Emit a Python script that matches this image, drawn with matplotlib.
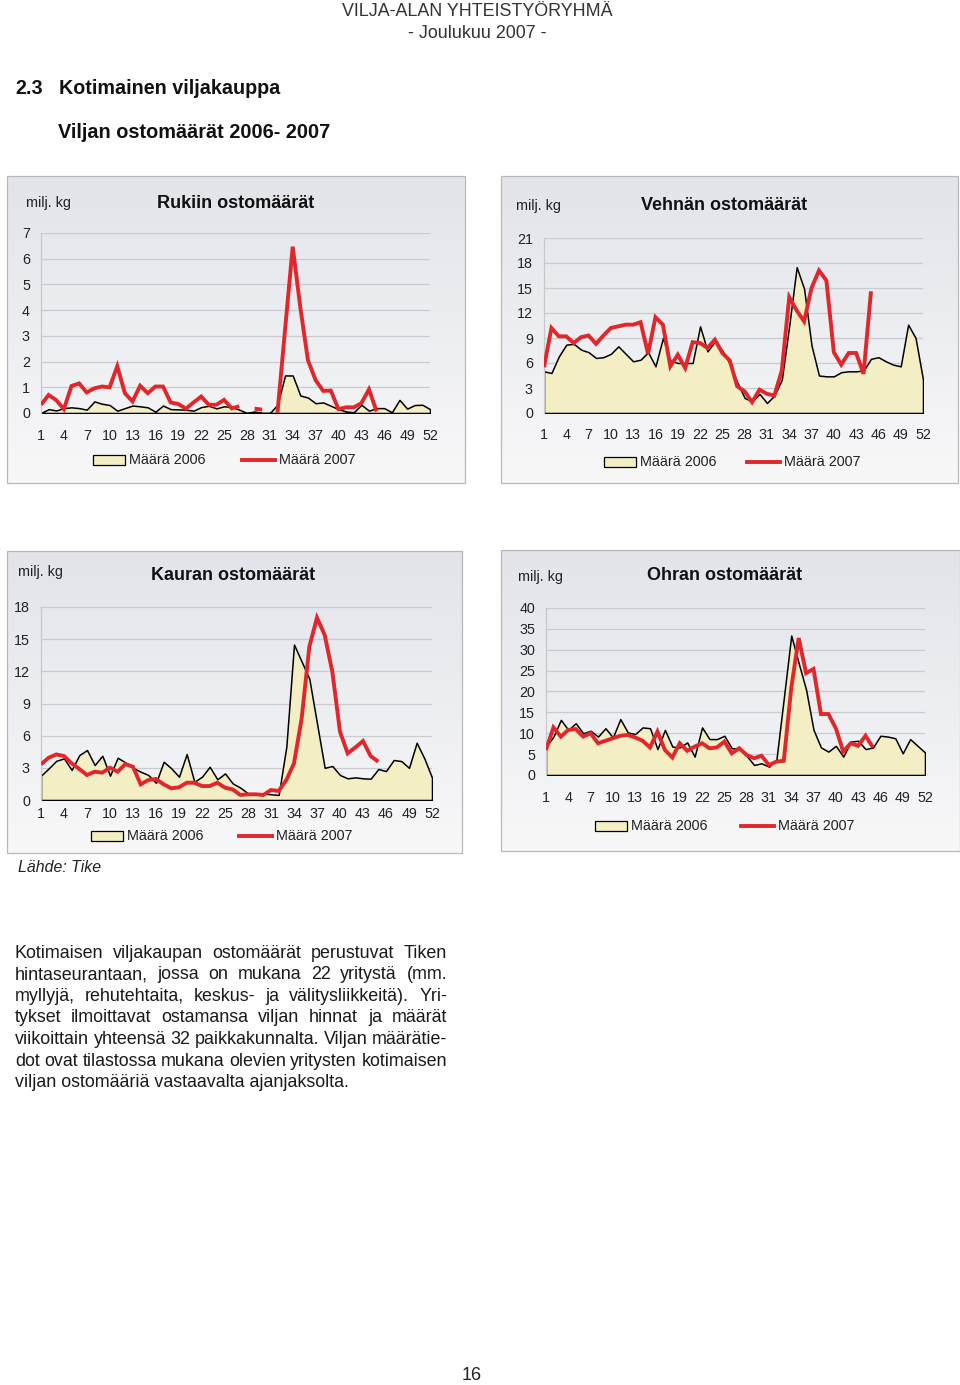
import numpy as np
import matplotlib
matplotlib.use("Agg")
import matplotlib.pyplot as plt
from matplotlib.patches import Rectangle
from matplotlib.lines import Line2D

plt.rcParams['font.family'] = ['Liberation Sans', 'DejaVu Sans']

nan = np.nan
weeks = list(range(1, 53))
xtick_weeks = list(range(1, 53, 3))

# ---- Rukiin ostomäärät (rye), milj. kg ----
rye_2006 = [0.00, 0.15, 0.10, 0.19, 0.22, 0.19, 0.13, 0.45, 0.36, 0.31,
            0.09, 0.19, 0.29, 0.26, 0.22, 0.05, 0.29, 0.15, 0.14, 0.13,
            0.09, 0.23, 0.28, 0.18, 0.26, 0.23, 0.13, 0.00, 0.06, 0.00,
            0.00, 0.32, 1.46, 1.46, 0.68, 0.60, 0.38, 0.41, 0.28, 0.15,
            0.06, 0.03, 0.32, 0.09, 0.19, 0.19, 0.03, 0.51, 0.17, 0.31,
            0.32, 0.15]
rye_2007 = [0.32, 0.70, 0.50, 0.15, 1.05, 1.15, 0.80, 0.96, 1.03, 1.00,
            1.82, 0.77, 0.45, 1.06, 0.77, 1.03, 1.03, 0.41, 0.35, 0.17,
            0.41, 0.64, 0.32, 0.32, 0.51, 0.18, 0.26, nan, 0.17, 0.13,
            nan, 0.00, 3.25, 6.47, 4.10, 2.05, 1.28, 0.86, 0.87, 0.15,
            0.22, 0.22, 0.38, 0.92, 0.06]

# ---- Vehnän ostomäärät (wheat) ----
wheat_2006 = [5.0, 4.8, 6.8, 8.2, 8.3, 7.6, 7.3, 6.6, 6.7, 7.1,
              8.0, 7.1, 6.2, 6.4, 7.3, 5.6, 9.0, 6.3, 6.0, 6.0,
              6.0, 10.4, 7.4, 8.6, 7.5, 5.9, 3.7, 1.8, 1.4, 2.3,
              1.2, 2.1, 4.0, 10.5, 17.5, 14.9, 8.1, 4.5, 4.4, 4.4,
              4.9, 5.0, 5.0, 5.1, 6.5, 6.7, 6.2, 5.8, 5.6, 10.6,
              9.0, 4.0]
wheat_2007 = [5.5, 10.2, 9.2, 9.2, 8.4, 9.1, 9.3, 8.3, 9.3, 10.2,
              10.4, 10.6, 10.6, 10.9, 7.1, 11.5, 10.6, 5.6, 7.0, 5.4,
              8.5, 8.4, 7.8, 8.8, 7.2, 6.3, 3.2, 2.6, 1.3, 2.8,
              2.3, 2.1, 5.1, 13.9, 12.3, 11.0, 15.0, 17.1, 15.9, 7.3,
              5.8, 7.2, 7.2, 4.7, 14.6]

# ---- Kauran ostomäärät (oats) ----
oats_2006 = [2.27, 2.95, 3.66, 3.88, 2.80, 4.19, 4.66, 3.26, 4.13, 2.27,
             3.94, 3.51, 3.00, 2.64, 2.33, 1.60, 3.57, 2.95, 2.17, 4.29,
             1.70, 2.17, 3.10, 1.93, 2.48, 1.55, 1.15, 0.62, 0.62, 0.62,
             0.53, 0.47, 4.97, 14.5, 12.9, 11.3, 7.14, 3.00, 3.17, 2.33,
             2.02, 2.11, 2.02, 1.99, 2.89, 2.70, 3.73, 3.63, 3.00, 5.34,
             3.88, 2.08]
oats_2007 = [3.32, 3.94, 4.25, 4.10, 3.42, 2.89, 2.33, 2.64, 2.55, 3.01,
             2.64, 3.35, 3.10, 1.46, 1.86, 1.96, 1.46, 1.09, 1.18, 1.61,
             1.61, 1.30, 1.30, 1.61, 1.15, 0.99, 0.47, 0.53, 0.53, 0.47,
             0.93, 0.84, 1.86, 3.42, 7.60, 14.3, 17.0, 15.4, 11.96, 6.37,
             4.35, 4.90, 5.50, 4.10, 3.57]

# ---- Ohran ostomäärät (barley) ----
barley_2006 = [6.8, 9.2, 13.2, 10.8, 12.4, 10.0, 10.6, 9.2, 11.2, 9.0,
               13.4, 10.2, 9.8, 11.4, 11.2, 6.2, 10.8, 6.8, 6.6, 7.8,
               4.4, 11.4, 8.6, 8.6, 9.4, 6.4, 6.4, 4.6, 2.4, 2.8,
               2.0, 3.6, 18.4, 33.4, 26.8, 20.4, 10.8, 6.6, 5.6, 7.0,
               4.4, 8.0, 8.2, 6.2, 6.6, 9.4, 9.2, 8.8, 5.2, 8.6,
               7.0, 5.4]
barley_2007 = [6.0, 11.4, 9.2, 10.8, 11.0, 9.2, 10.0, 7.6, 8.2, 8.8,
               9.4, 9.6, 9.0, 8.2, 6.6, 10.4, 6.0, 4.2, 7.6, 5.8,
               6.8, 7.6, 6.4, 6.6, 8.0, 5.2, 6.4, 4.8, 4.0, 4.6,
               2.4, 3.2, 3.4, 20.8, 32.8, 24.4, 25.4, 14.6, 14.6, 11.2,
               5.6, 7.6, 7.0, 9.4, 6.6]

legend_labels = ["Määrä 2006", "Määrä 2007"]

FILL = "#F4EEC4"
RED = "#E0282C"
GRID = "#C9CBD0"
W, H = 960, 1385

fig = plt.figure(figsize=(W / 100, H / 100), dpi=100)
bg = fig.add_axes([0, 0, 1, 1])
bg.set_xlim(0, W)
bg.set_ylim(H, 0)
bg.axis("off")

grad = np.linspace(0, 1, 256).reshape(-1, 1)
cmap = matplotlib.colors.LinearSegmentedColormap.from_list(
    "pan", ["#E2E4EA", "#F8F8F9"])


def panel(x0, y0, x1, y1):
    bg.imshow(grad, extent=(x0, x1, y1, y0), cmap=cmap, aspect="auto",
              zorder=0, interpolation="bilinear")
    bg.add_patch(Rectangle((x0, y0), x1 - x0, y1 - y0, fill=False,
                           edgecolor="#B8B8B8", lw=0.9, zorder=1))


def chart(box, plot, ymax, ystep, s06, s07, title, title_xy, unit_xy,
          tick_y, leg):
    panel(*box)
    px0, py_top, px1, py0 = plot
    ax = fig.add_axes([px0 / W, 1 - py0 / H, (px1 - px0) / W,
                       (py0 - py_top) / H])
    ax.set_facecolor("none")
    w6 = weeks[:len(s06)]
    ax.fill_between(w6, 0, s06, facecolor=FILL, edgecolor="black",
                    lw=1.1, zorder=2)
    w7 = weeks[:len(s07)]
    ax.plot(w7, s07, color=RED, lw=2.8, zorder=3,
            solid_joinstyle="miter", solid_capstyle="butt")
    ax.set_xlim(1, 52)
    ax.set_ylim(0, ymax)
    yt = np.arange(0, ymax + 0.01, ystep)
    ax.set_yticks(yt)
    ax.set_yticklabels([f"{int(v)}" for v in yt])
    ax.set_xticks(xtick_weeks)
    ax.set_xticklabels([str(w) for w in xtick_weeks])
    ax.tick_params(length=0, labelsize=10.3, colors="#222222")
    ax.tick_params(axis="x", pad=(tick_y - py0 - 7) * 0.72)
    ax.tick_params(axis="y", pad=8)
    for yv in np.arange(ystep, ymax + 0.01, ystep):
        ax.axhline(yv, color=GRID, lw=0.9, zorder=1)
    for s in ["top", "right", "bottom"]:
        ax.spines[s].set_visible(False)
    ax.spines["left"].set_color("#C8C8C8")
    ax.spines["left"].set_linewidth(0.9)
    bg.text(title_xy[0], title_xy[1], title, ha="center", va="center",
            fontsize=13, fontweight="bold", color="#111111")
    bg.text(unit_xy[0], unit_xy[1], "milj. kg", ha="left", va="center",
            fontsize=10.4, color="#222222")
    # legend
    lx6, lx7, ly = leg
    bg.add_patch(Rectangle((lx6, ly - 5), 32, 10, facecolor=FILL,
                           edgecolor="black", lw=0.9, zorder=2))
    bg.text(lx6 + 36, ly, legend_labels[0], ha="left", va="center",
            fontsize=10.4, color="#222222")
    bg.add_line(Line2D([lx7, lx7 + 33], [ly, ly], color=RED, lw=2.8,
                       zorder=2))
    bg.text(lx7 + 37, ly, legend_labels[1], ha="left", va="center",
            fontsize=10.4, color="#222222")
    return ax


chart((7, 176, 465, 483), (41, 233, 430, 413), 7, 1, rye_2006, rye_2007,
      "Rukiin ostomäärät", (236, 203), (26, 203), 436, (93, 242, 460))
chart((501, 176, 958, 483), (544, 238, 923, 413), 21, 3, wheat_2006,
      wheat_2007, "Vehnän ostomäärät", (724, 206), (516, 206), 435,
      (604, 747, 462))
chart((7, 551, 462, 853), (41, 607, 432, 800), 18, 3, oats_2006, oats_2007,
      "Kauran ostomäärät", (233, 575), (18, 572), 814, (91, 239, 836))
chart((501, 550, 960, 851), (546, 608, 925, 775), 40, 5, barley_2006,
      barley_2007, "Ohran ostomäärät", (725, 576), (518, 577), 798,
      (595, 741, 826))

# header texts
bg.text(477, 12, "VILJA-ALAN YHTEISTYÖRYHMÄ", ha="center", va="center",
        fontsize=12.9, color="#333333")
bg.text(477, 33, "- Joulukuu 2007 -", ha="center", va="center",
        fontsize=12.9, color="#333333")
bg.text(15, 89, "2.3", ha="left", va="center", fontsize=14.2,
        fontweight="bold", color="#111111")
bg.text(59, 89, "Kotimainen viljakauppa", ha="left", va="center",
        fontsize=14.2, fontweight="bold", color="#111111")
bg.text(58, 132, "Viljan ostomäärät 2006- 2007", ha="left", va="center",
        fontsize=14.3, fontweight="bold", color="#111111")
bg.text(18, 867, "Lähde: Tike", ha="left", va="center", fontsize=11.4,
        style="italic", color="#222222")
bg.text(472, 1376, "16", ha="center", va="center", fontsize=13,
        color="#222222")

# justified paragraph
para = [
    "Kotimaisen viljakaupan ostomäärät perustuvat Tiken",
    "hintaseurantaan, jossa on mukana 22 yritystä (mm.",
    "myllyjä, rehutehtaita, keskus- ja välitysliikkeitä). Yri-",
    "tykset ilmoittavat ostamansa viljan hinnat ja määrät",
    "viikoittain yhteensä 32 paikkakunnalta. Viljan määrätie-",
    "dot ovat tilastossa mukana olevien yritysten kotimaisen",
    "viljan ostomääriä vastaavalta ajanjaksolta.",
]
renderer = fig.canvas.get_renderer()
left, right, top, lh = 15, 447, 953, 21.6
psize = 12.85
for i, line in enumerate(para):
    y = top + i * lh
    words = line.split(" ")
    if i == len(para) - 1:
        bg.text(left, y, line, ha="left", va="center", fontsize=psize,
                color="#1a1a1a")
        continue
    objs = [bg.text(0, y, w, ha="left", va="center", fontsize=psize,
                    color="#1a1a1a") for w in words]
    widths = [o.get_window_extent(renderer).width for o in objs]
    gap = (right - left - sum(widths)) / (len(words) - 1)
    x = left
    for o, wd in zip(objs, widths):
        o.set_x(x)
        x += wd + gap

fig.savefig("out.png", dpi=100)
